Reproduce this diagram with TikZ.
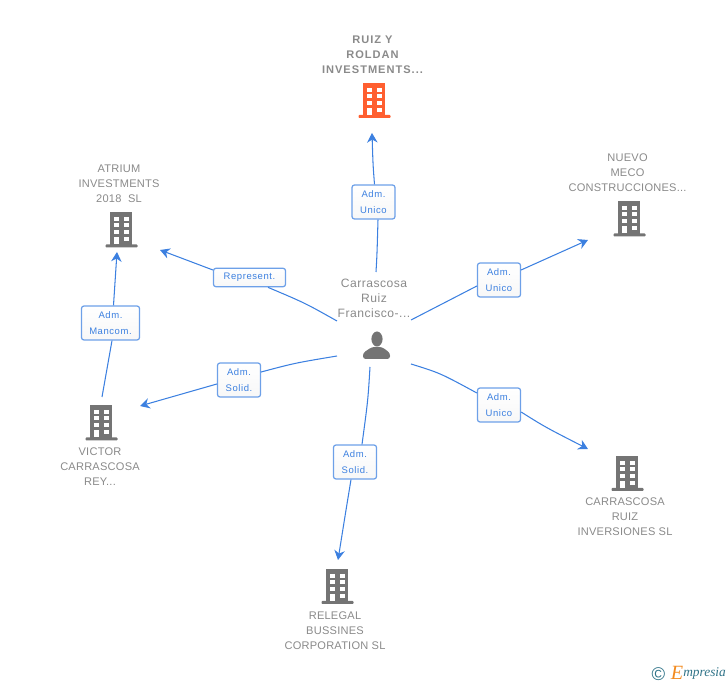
\documentclass[tikz,border=0pt]{standalone}
\usepackage{fontspec}
\setmainfont{Liberation Sans}
\newfontfamily\logofont{Liberation Serif}
\newfontfamily\namefont[LetterSpace=2]{Liberation Sans}
\newfontfamily\ownerfont[LetterSpace=4]{Liberation Sans}
\newfontfamily\rolefont[LetterSpace=6]{Liberation Sans}
\newfontfamily\mainnamefont[LetterSpace=9]{Liberation Sans}
\usetikzlibrary{calc, arrows.meta}
\definecolor{linkblue}{HTML}{3C80E0}
\definecolor{namegrey}{HTML}{8A8A8A}
\definecolor{icongrey}{HTML}{747474}
\definecolor{iconred}{HTML}{FF5F30}
\definecolor{logoteal}{HTML}{2F7388}
\definecolor{logoorange}{HTML}{F28A1E}
\tikzset{
  namelabel/.style={text=namegrey, align=center, font=\fontsize{6.3}{8.54}\namefont, inner sep=0pt},
  rolelabel/.style={draw=linkblue!75, line width=0.7pt, rounded corners=1.4pt, top color=white, bottom color=black!3,
    text=linkblue, align=center, font=\fontsize{5.4}{8.9}\rolefont, inner sep=0pt},
  linkline/.style={draw=linkblue, line width=0.6pt},
  linkarrow/.style={linkline, -{Stealth[length=5.5pt, width=6pt, inset=1.8pt]}},
  pics/buildingicon/.style={code={
    \fill[#1] (-11,-17) rectangle (11,16);
    \fill[#1, rounded corners=0.5pt] (-15.5,15) rectangle (16.5,18);
    \foreach \wx in {-7,3} \foreach \wy in {-12,-6,1}
      \fill[white] (\wx,\wy) rectangle (\wx+5,\wy+4);
    \fill[white] (-7,8) rectangle (-2,15);
    \fill[white] (3,8) rectangle (8,12);
  }}
}
\begin{document}
\begin{tikzpicture}[x=0.02cm, y=-0.02cm]
  \useasboundingbox (0,0) rectangle (728,685);
  %names of the companies and of the person
  \node[namelabel, font=\fontsize{6.3}{8.54}\mainnamefont\bfseries] (ruiz) at (372.5,55) {RUIZ Y\\ROLDAN\\INVESTMENTS...};
  \node[namelabel] (nuevo) at (627.5,173) {NUEVO\\MECO\\CONSTRUCCIONES...};
  \node[namelabel] (atrium) at (119,184) {ATRIUM\\INVESTMENTS\\2018\ \ SL};
  \node[namelabel] (victor) at (100,467) {VICTOR\\CARRASCOSA\\REY...};
  \node[namelabel] (inversiones) at (625,517) {CARRASCOSA\\RUIZ\\INVERSIONES SL};
  \node[namelabel] (relegal) at (335,631) {RELEGAL\\BUSSINES\\CORPORATION SL};
  \node[namelabel, font=\fontsize{6.9}{8.54}\ownerfont] (person) at (374,298) {Carrascosa\\Ruiz\\Francisco-...};
  %icons
  \pic at (374,100) {buildingicon=iconred};
  \pic at (629,218.5) {buildingicon=icongrey};
  \pic at (121,229.5) {buildingicon=icongrey};
  \pic at (101,422.5) {buildingicon=icongrey};
  \pic at (627,473) {buildingicon=icongrey};
  \pic at (337,586) {buildingicon=icongrey};
  \fill[icongrey] (377,339) ellipse (5.6 and 7.5);
  \fill[icongrey, rounded corners=1.5pt] (363,359) -- (363,353) -- (372,347) -- (382,347) -- (390,353) -- (390,359) -- cycle;
  %roles on the links
  \node[rolelabel, text width=0.86cm, minimum height=0.68cm] (unicotop) at (373.5,202) {Adm.\\Unico};
  \node[rolelabel, text width=0.86cm, minimum height=0.68cm] (uniconuevo) at (499,280) {Adm.\\Unico};
  \node[rolelabel, text width=0.86cm, minimum height=0.68cm] (unicoinv) at (499,405) {Adm.\\Unico};
  \node[rolelabel, text width=0.86cm, minimum height=0.68cm] (solidrel) at (355,462) {Adm.\\Solid.};
  \node[rolelabel, text width=0.86cm, minimum height=0.68cm] (solidvic) at (239,380) {Adm.\\Solid.};
  \node[rolelabel, text width=1.44cm, minimum height=0.37cm] (represent) at (249.5,277.5) {Represent.};
  \node[rolelabel, text width=1.16cm, minimum height=0.68cm] (mancom) at (110.5,323) {Adm.\\Mancom.};
  %free ends of the links
  \coordinate (a1) at (376,272);
  \coordinate (a2) at (372,133);
  \coordinate (b1) at (411,320);
  \coordinate (b2) at (588,240);
  \coordinate (c1) at (411,364);
  \coordinate (c2) at (588,449);
  \coordinate (d1) at (370,367);
  \coordinate (d2) at (338,560);
  \coordinate (e1) at (337,356);
  \coordinate (e2) at (140,406);
  \coordinate (f1) at (337,321);
  \coordinate (f2) at (160,250);
  \coordinate (g1) at (102,397);
  \coordinate (g2) at (117,252);
  %links
  \draw[linkline] (a1) .. controls (377,255) .. (unicotop.south -| 378,0);
  \draw[linkarrow] (unicotop.north -| 374.5,0) .. controls (373,165) .. (a2);
  \draw[linkline] (b1) -- (uniconuevo.west |- 0,286);
  \draw[linkarrow] (uniconuevo.east |- 0,270) -- (b2);
  \draw[linkline] (c1) .. controls (440,373) .. (unicoinv.west |- 0,393);
  \draw[linkarrow] (unicoinv.east |- 0,412) .. controls (545,427) .. (c2);
  \draw[linkline] (d1) .. controls (368,400) .. (solidrel.north -| 362,0);
  \draw[linkarrow] (solidrel.south -| 351,0) .. controls (346,510) .. (d2);
  \draw[linkline] (e1) .. controls (295,363) .. (solidvic.east |- 0,372);
  \draw[linkarrow] (solidvic.west |- 0,384) -- (e2);
  \draw[linkline] (f1) .. controls (305,303) .. (represent.south -| 268,0);
  \draw[linkarrow] (represent.west |- 0,270) -- (f2);
  \draw[linkline] (g1) -- (mancom.south -| 112,0);
  \draw[linkarrow] (mancom.north -| 113.5,0) -- (g2);
  %logo
  \node[text=logoteal, inner sep=0pt, font=\fontsize{10.5}{10.5}\selectfont] (copyright) at (658.5,674) {©};
  \node[text=logoorange, inner sep=0pt, font=\fontsize{11.5}{11.5}\logofont\itshape] (logoe) at (677,673) {E};
  \node[text=logoteal, inner sep=0pt, anchor=west, font=\fontsize{7.6}{8}\logofont\itshape] (logotext) at (683,673.5) {mpresia};
\end{tikzpicture}
\end{document}
